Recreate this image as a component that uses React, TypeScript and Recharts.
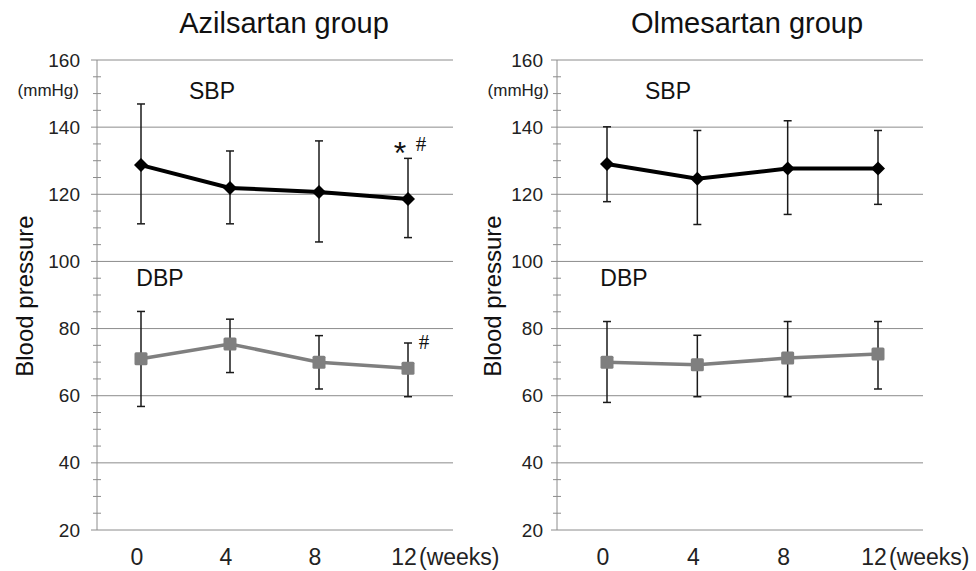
import React from "react";
import { LineChart, Line, XAxis, YAxis, ReferenceLine, ErrorBar } from "recharts";

const weeks = ["0", "4", "8", "12"];

// Azilsartan
const azSbpMean = [128.7, 121.9, 120.7, 118.6];
const azSbpLow = [111.2, 111.2, 105.8, 107.1];
const azSbpHigh = [146.9, 132.9, 135.9, 130.7];
const azDbpMean = [71.0, 75.4, 70.0, 68.2];
const azDbpLow = [56.8, 66.9, 62.0, 59.7];
const azDbpHigh = [85.1, 82.8, 77.9, 75.7];

// Olmesartan
const olSbpMean = [129.0, 124.6, 127.7, 127.7];
const olSbpLow = [117.8, 111.0, 114.0, 117.0];
const olSbpHigh = [140.1, 139.0, 141.9, 139.0];
const olDbpMean = [70.0, 69.2, 71.2, 72.4];
const olDbpLow = [58.0, 59.7, 59.7, 62.0];
const olDbpHigh = [82.1, 78.0, 82.1, 82.1];

const yTicks = [20, 25, 30, 35, 40, 45, 50, 55, 60, 65, 70, 75, 80, 85, 90, 95, 100, 105, 110, 115, 120, 125, 130, 135, 140, 145, 150, 155, 160];
const gridValues = [40, 60, 80, 100, 120, 140, 160];

const FONT = "Arial, 'Liberation Sans', sans-serif";
const SERIF = "'Liberation Serif', 'Times New Roman', serif";
const AXIS = "#8c8c8c";
const DBP_COLOR = "#7f7f7f";

function buildRows(
  sbp: number[], sbpLo: number[], sbpHi: number[],
  dbp: number[], dbpLo: number[], dbpHi: number[]
) {
  return weeks.map((w, i) => ({
    week: w,
    sbp: sbp[i],
    sbpErr: [sbp[i] - sbpLo[i], sbpHi[i] - sbp[i]],
    dbp: dbp[i],
    dbpErr: [dbp[i] - dbpLo[i], dbpHi[i] - dbp[i]],
  }));
}

function Diamond({ cx, cy }: { cx?: number; cy?: number }) {
  if (cx == null || cy == null) return null;
  const r = 7;
  return <polygon points={`${cx},${cy - r} ${cx + r},${cy} ${cx},${cy + r} ${cx - r},${cy}`} fill="#000" />;
}

function Square({ cx, cy }: { cx?: number; cy?: number }) {
  if (cx == null || cy == null) return null;
  return <rect x={cx - 6.5} y={cy - 6.5} width={13} height={13} rx={1.5} fill={DBP_COLOR} />;
}

function makeYTick(labelGap: number, unitGap: number) {
  return function YTick(props: any) {
    const { x, y, payload } = props;
    const v = payload.value as number;
    const major = v % 20 === 0;
    return (
      <g>
        {major ? (
          <>
            <line x1={x - 6} x2={x} y1={y} y2={y} stroke={AXIS} strokeWidth={1} />
            <text x={x - labelGap} y={y} textAnchor="end" dominantBaseline="central" fontSize={19} fontFamily={FONT} fill="#222">
              {v}
            </text>
          </>
        ) : (
          <line x1={x - 4} x2={x + 4} y1={y} y2={y} stroke={AXIS} strokeWidth={1} />
        )}
        {v === 150 && (
          <text x={x - unitGap} y={y - 3} textAnchor="end" dominantBaseline="central" fontSize={17} fontFamily={FONT} fill="#222">
            (mmHg)
          </text>
        )}
      </g>
    );
  };
}

function XTick(props: any) {
  const { x, y, payload } = props;
  return (
    <g>
      <text x={x - 4} y={y + 35} textAnchor="middle" fontSize={23} fontFamily={FONT} fill="#222">
        {payload.value}
      </text>
      {payload.value === weeks[weeks.length - 1] && (
        <text x={x + 11} y={y + 35} textAnchor="start" fontSize={23} fontFamily={FONT} fill="#222">
          (weeks)
        </text>
      )}
    </g>
  );
}

interface PanelProps {
  rows: ReturnType<typeof buildRows>;
  left: number;
  width: number;
  axisWidth: number;
  right: number;
  padLeft: number;
  padRight: number;
  labelGap: number;
  unitGap: number;
}

function Panel({ rows, left, width, axisWidth, right, padLeft, padRight, labelGap, unitGap }: PanelProps) {
  return (
    <div style={{ position: "absolute", left, top: 0 }}>
      <LineChart width={width} height={571} data={rows} margin={{ top: 60, right, bottom: 11, left: 0 }}>
        {gridValues.map((v) => (
          <ReferenceLine key={v} y={v} stroke={AXIS} strokeWidth={1} />
        ))}
        <XAxis
          dataKey="week"
          height={30}
          padding={{ left: padLeft, right: padRight }}
          axisLine={{ stroke: AXIS, strokeWidth: 1 }}
          tickLine={false}
          tickSize={0}
          tickMargin={0}
          tick={<XTick />}
          interval={0}
        />
        <YAxis
          type="number"
          domain={[20, 160]}
          ticks={yTicks}
          interval={0}
          width={axisWidth}
          axisLine={{ stroke: AXIS, strokeWidth: 1 }}
          tickLine={false}
          tickSize={0}
          tickMargin={0}
          tick={makeYTick(labelGap, unitGap)}
          allowDataOverflow
        />
        <Line
          type="linear"
          dataKey="dbp"
          stroke={DBP_COLOR}
          strokeWidth={3.5}
          dot={(p: any) => <Square key={`d${p.index}`} cx={p.cx} cy={p.cy} />}
          activeDot={false}
          isAnimationActive={false}
        >
          <ErrorBar dataKey="dbpErr" direction="y" width={4} stroke="#1a1a1a" strokeWidth={1.5} />
        </Line>
        <Line
          type="linear"
          dataKey="sbp"
          stroke="#000"
          strokeWidth={4}
          dot={(p: any) => <Diamond key={`s${p.index}`} cx={p.cx} cy={p.cy} />}
          activeDot={false}
          isAnimationActive={false}
        >
          <ErrorBar dataKey="sbpErr" direction="y" width={4} stroke="#1a1a1a" strokeWidth={1.5} />
        </Line>
      </LineChart>
    </div>
  );
}

export default function App() {
  const azRows = buildRows(azSbpMean, azSbpLow, azSbpHigh, azDbpMean, azDbpLow, azDbpHigh);
  const olRows = buildRows(olSbpMean, olSbpLow, olSbpHigh, olDbpMean, olDbpLow, olDbpHigh);
  const txt = { fontFamily: FONT, fill: "#111" };
  return (
    <div style={{ position: "absolute", left: 0, top: 0, width: 976, height: 571, background: "#fff", overflow: "hidden" }}>
      <Panel rows={azRows} left={0} width={520} axisWidth={97} right={67} padLeft={44} padRight={45} labelGap={17} unitGap={18} />
      <Panel rows={olRows} left={470} width={506} axisWidth={87} right={53} padLeft={50} padRight={45} labelGap={14} unitGap={8} />
      <svg width={976} height={571} style={{ position: "absolute", left: 0, top: 0, pointerEvents: "none" }}>
        <text x={284} y={33} textAnchor="middle" fontSize={29} {...txt}>Azilsartan group</text>
        <text x={747} y={33} textAnchor="middle" fontSize={29} {...txt}>Olmesartan group</text>

        <text x={33} y={296} textAnchor="middle" fontSize={24} transform="rotate(-90 33 296)" {...txt}>Blood pressure</text>
        <text x={501} y={296} textAnchor="middle" fontSize={24} transform="rotate(-90 501 296)" {...txt}>Blood pressure</text>

        <text x={212} y={99} textAnchor="middle" fontSize={23} {...txt}>SBP</text>
        <text x={160} y={286} textAnchor="middle" fontSize={23} {...txt}>DBP</text>
        <text x={668} y={99} textAnchor="middle" fontSize={23} {...txt}>SBP</text>
        <text x={624} y={286} textAnchor="middle" fontSize={23} {...txt}>DBP</text>

        <text x={400} y={164} textAnchor="middle" fontSize={32} {...txt}>*</text>
        <text x={421} y={151} textAnchor="middle" fontSize={21} fontFamily={SERIF} fill="#111">#</text>
        <text x={424} y={349} textAnchor="middle" fontSize={21} fontFamily={SERIF} fill="#111">#</text>
      </svg>
    </div>
  );
}
